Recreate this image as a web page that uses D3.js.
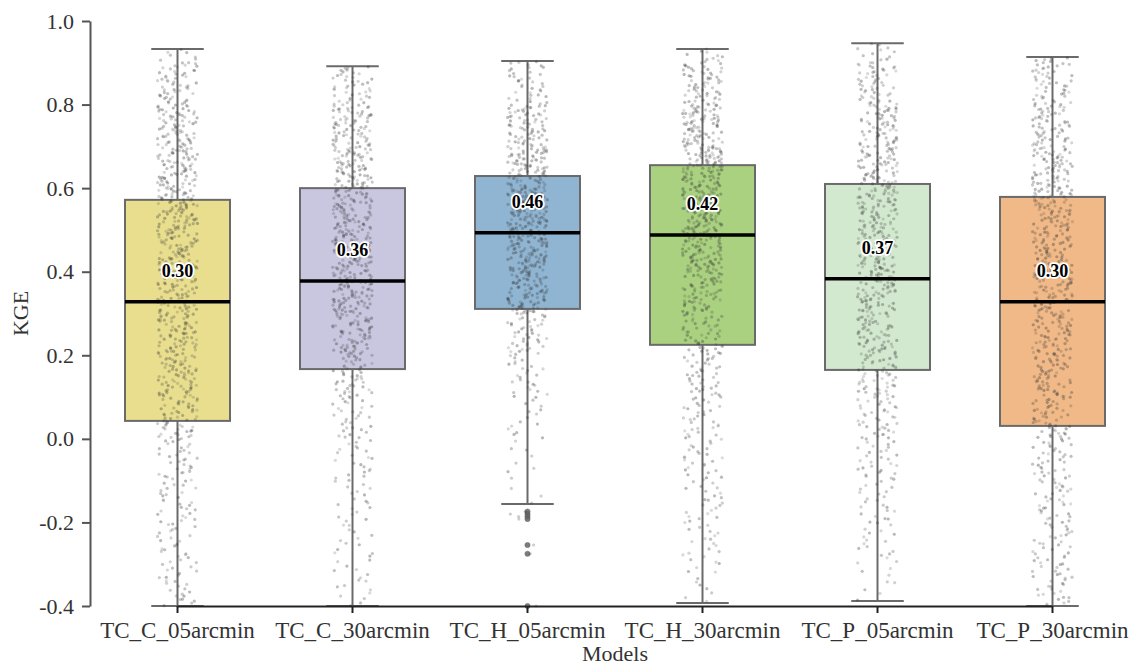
<!DOCTYPE html>
<html>
<head>
<meta charset="utf-8">
<script src="https://cdn.jsdelivr.net/npm/d3@7"></script>
<style>
  html, body { margin: 0; padding: 0; background: #ffffff; }
  svg { display: block; }
</style>
</head>
<body>
<div id="chart"></div>
<script>
// ---------- data ----------
const categories = ["TC_C_05arcmin", "TC_C_30arcmin", "TC_H_05arcmin", "TC_H_30arcmin", "TC_P_05arcmin", "TC_P_30arcmin"];
const q1Values      = [0.043, 0.167, 0.311, 0.225, 0.165, 0.031];
const medianValues  = [0.328, 0.378, 0.493, 0.488, 0.383, 0.328];
const q3Values      = [0.572, 0.600, 0.629, 0.655, 0.610, 0.579];
const whiskerLow    = [-0.400, -0.400, -0.156, -0.393, -0.388, -0.400];
const whiskerHigh   = [0.933, 0.892, 0.904, 0.933, 0.947, 0.914];
const meanLabels    = ["0.30", "0.36", "0.46", "0.42", "0.37", "0.30"];
const outliersH05   = [-0.174, -0.180, -0.186, -0.192, -0.254, -0.275, -0.400];
const boxColors     = ["#e8de8e", "#c9c6e0", "#8fb5d2", "#a9d17f", "#d3e9cf", "#f0b987"];
const yTicks        = [-0.4, -0.2, 0.0, 0.2, 0.4, 0.6, 0.8, 1.0];

// estimated number of strip points per 0.1 KGE bin (bins start at these edges)
const binEdges      = [-0.4, -0.3, -0.2, -0.1, 0.0, 0.1, 0.2, 0.3, 0.4, 0.5, 0.6, 0.7, 0.8, 0.9, 1.0];
const stripC05      = [25, 25, 28, 32, 55, 68, 70, 72, 80, 85, 75, 70, 50, 8];
const stripC30      = [15, 15, 18, 22, 30, 45, 75, 90, 90, 85, 80, 70, 40, 0];
const stripH05      = [0, 0, 3, 8, 15, 25, 45, 90, 110, 120, 90, 70, 35, 2];
const stripH30      = [10, 20, 22, 25, 30, 38, 50, 70, 95, 105, 100, 85, 60, 10];
const stripP05      = [8, 18, 22, 28, 38, 50, 65, 75, 80, 80, 75, 65, 50, 12];
const stripP30      = [30, 30, 32, 35, 50, 60, 65, 68, 72, 75, 70, 60, 45, 6];
const stripCounts   = [stripC05, stripC30, stripH05, stripH30, stripP05, stripP30];

// ---------- layout ----------
const W = 1132, H = 667;
const svg = d3.select("#chart").append("svg").attr("width", W).attr("height", H);

const x = d3.scaleBand().domain(categories).range([90, 1140]).paddingInner(0).paddingOuter(0);
const y = d3.scaleLinear().domain([-0.4, 1.0]).range([606, 21]);
const boxW = x.bandwidth() * 0.6;
const cx = c => x(c) + x.bandwidth() / 2;

const serif = "'Liberation Serif', 'Times New Roman', serif";
const axisColor = "#555555";
const lineColor = "#6a6a6a";
const textColor = "#333333";
const fmt = d => d3.format(".1f")(d).replace("\u2212", "-");

// ---------- boxes ----------
const g = svg.append("g");
categories.forEach((c, i) => {
  const xc = cx(c);
  g.append("line").attr("x1", xc).attr("x2", xc)
    .attr("y1", y(q3Values[i])).attr("y2", y(whiskerHigh[i]))
    .attr("stroke", lineColor).attr("stroke-width", 2);
  g.append("line").attr("x1", xc).attr("x2", xc)
    .attr("y1", y(q1Values[i])).attr("y2", y(whiskerLow[i]))
    .attr("stroke", lineColor).attr("stroke-width", 2);
  [whiskerHigh[i], whiskerLow[i]].forEach(v => {
    g.append("line").attr("x1", xc - boxW / 4).attr("x2", xc + boxW / 4)
      .attr("y1", y(v)).attr("y2", y(v))
      .attr("stroke", lineColor).attr("stroke-width", 2);
  });
  g.append("rect")
    .attr("x", xc - boxW / 2).attr("width", boxW)
    .attr("y", y(q3Values[i])).attr("height", y(q1Values[i]) - y(q3Values[i]))
    .attr("fill", boxColors[i]).attr("stroke", lineColor).attr("stroke-width", 2);
});

// outliers (TC_H_05arcmin)
const hx = cx("TC_H_05arcmin");
g.selectAll(".outlier").data(outliersH05).join("circle")
  .attr("cx", hx).attr("cy", d => y(d)).attr("r", 2.6)
  .attr("fill", "#666").attr("stroke", "#555").attr("stroke-width", 0.6).attr("opacity", 0.85);

// ---------- strip points (deterministic hashed jitter, like a stripplot) ----------
const hash = (a, b, c) => {
  const s = Math.sin(a * 12.9898 + b * 78.233 + c * 37.719) * 43758.5453;
  return s - Math.floor(s);
};
const pts = [];
categories.forEach((c, ci) => {
  const counts = stripCounts[ci];
  counts.forEach((n, bi) => {
    const lo = Math.max(binEdges[bi], whiskerLow[ci]);
    const hi = Math.min(binEdges[bi + 1], whiskerHigh[ci]);
    if (n <= 0 || hi <= lo) return;
    for (let k = 0; k < n; k++) {
      const f = (k + hash(k, bi, ci + 1)) / n;
      const v = lo + f * (hi - lo);
      const jit = (hash(ci + 7, k, bi + 3) - 0.5) * 40;
      pts.push({ x: cx(c) + jit, y: y(v), a: 0.18 + 0.2 * hash(k, ci, bi + 11) });
    }
  });
  if (c === "TC_H_05arcmin") {
    outliersH05.forEach((v, k) => pts.push({ x: cx(c) + (hash(k, 5, 9) - 0.5) * 40, y: y(v), a: 0.25 }));
  }
});
svg.append("g").selectAll("circle").data(pts).join("circle")
  .attr("cx", d => d.x).attr("cy", d => d.y).attr("r", 1.6)
  .attr("fill", "#3a3a3a").attr("fill-opacity", d => d.a);

// ---------- medians ----------
categories.forEach((c, i) => {
  const xc = cx(c);
  svg.append("line").attr("x1", xc - boxW / 2).attr("x2", xc + boxW / 2)
    .attr("y1", y(medianValues[i])).attr("y2", y(medianValues[i]))
    .attr("stroke", "#000").attr("stroke-width", 3.5);
});

// ---------- mean labels ----------
categories.forEach((c, i) => {
  svg.append("text")
    .attr("x", cx(c)).attr("y", y(medianValues[i]) - 31)
    .attr("text-anchor", "middle").attr("dominant-baseline", "central")
    .attr("font-family", serif).attr("font-weight", "bold").attr("font-size", 18)
    .attr("fill", "#000").attr("stroke", "#fff").attr("stroke-width", 3.5)
    .attr("paint-order", "stroke").attr("stroke-linejoin", "round")
    .text(meanLabels[i]);
});

// ---------- axes ----------
const yAxis = d3.axisLeft(y).tickValues(yTicks).tickFormat(fmt).tickSize(8).tickPadding(8).tickSizeOuter(0);
const ya = svg.append("g").attr("transform", "translate(90,0)").call(yAxis);
ya.select(".domain").attr("stroke", axisColor).attr("stroke-width", 2);
ya.selectAll(".tick line").attr("stroke", axisColor).attr("stroke-width", 2);
ya.selectAll(".tick text").attr("font-family", serif).attr("font-size", 22).attr("fill", textColor);

const xAxis = d3.axisBottom(x).tickSize(7).tickPadding(9).tickSizeOuter(0);
const xa = svg.append("g").attr("transform", "translate(0,606)").call(xAxis);
xa.select(".domain").attr("d", `M${cx(categories[0])},0.5H${cx(categories[categories.length - 1])}`)
  .attr("stroke", "#222").attr("stroke-width", 2);
xa.selectAll(".tick line").attr("stroke", "#222").attr("stroke-width", 2);
xa.selectAll(".tick text").attr("font-family", serif).attr("font-size", 23).attr("fill", textColor);

// axis titles
svg.append("text").attr("x", (x.range()[0] + x.range()[1]) / 2).attr("y", 661)
  .attr("text-anchor", "middle").attr("font-family", serif).attr("font-size", 22).attr("fill", textColor)
  .text("Models");
svg.append("text").attr("transform", `translate(28,${(y(1.0) + y(-0.4)) / 2}) rotate(-90)`)
  .attr("text-anchor", "middle").attr("font-family", serif).attr("font-size", 22).attr("fill", textColor)
  .text("KGE");
</script>
</body>
</html>
